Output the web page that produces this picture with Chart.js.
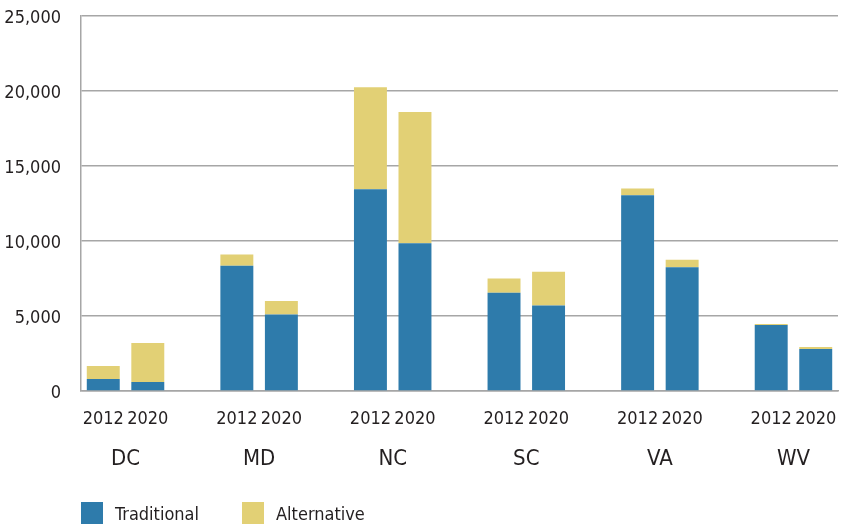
<!DOCTYPE html>
<html>
<head>
<meta charset="utf-8">
<script src="https://cdn.jsdelivr.net/npm/chart.js@4.4.1/dist/chart.umd.min.js"></script>
<style>
  html, body { margin: 0; padding: 0; background: #fff; }
  #wrap { position: relative; width: 843px; height: 525px; }
  #legend {
    position: absolute; left: 81px; top: 502px;
    display: flex; align-items: center;
    font-family: 'Liberation Sans Narrow', 'DejaVu Sans Condensed', sans-serif;
    font-size: 18px; color: #231f20;
  }
  .item { display: flex; align-items: center; width: 161px; }
  .box { width: 22px; height: 22px; margin-right: 12px; }
</style>
</head>
<body>
<div id="wrap">
  <canvas id="chart" width="843" height="525"></canvas>
  <div id="legend"></div>
</div>
<script>
// Traditional vs alternative, by state and year

const states = ['DC', 'MD', 'NC', 'SC', 'VA', 'WV'];
const years = ['2012', '2020'];
const traditional2012 = [800, 8350, 13450, 6550, 13050, 4400];
const traditional2020 = [600, 5100, 9850, 5700, 8250, 2800];
const alternative2012 = [870, 750, 6800, 950, 450, 70];
const alternative2020 = [2600, 900, 8750, 2250, 500, 130];
const yTicks = [0, 5000, 10000, 15000, 20000, 25000];

const FONT = "'Liberation Sans Narrow', 'DejaVu Sans Condensed', sans-serif";
const TEXT = '#231f20';
const GRID = '#a6a6a6';

// one slot per bar, an empty slot between states
function slots(a2012, a2020) {
  const out = [];
  states.forEach((s, i) => {
    out.push(a2012[i], a2020[i]);
    if (i < states.length - 1) out.push(null);
  });
  return out;
}

const labels = [];
states.forEach((s, i) => {
  labels.push(years[0], years[1]);
  if (i < states.length - 1) labels.push('');
});

const series = [
  { label: 'Traditional', color: '#2e7bab', data: slots(traditional2012, traditional2020) },
  { label: 'Alternative', color: '#e2d075', data: slots(alternative2012, alternative2020) },
];

function noSidePadding(scale) {
  scale.paddingLeft = 0;
  scale.paddingRight = 0;
}

function createChart() {
  const ctx = document.getElementById('chart').getContext('2d');

  new Chart(ctx, {
    type: 'bar',
    data: {
      labels,
      datasets: series.map((s) => ({
        label: s.label,
        data: s.data,
        backgroundColor: s.color,
        borderWidth: 0,
        categoryPercentage: 1,
        barPercentage: 0.74,
      })),
    },
    options: {
      responsive: false,
      animation: false,
      layout: { padding: { top: 0, right: 5, bottom: 46, left: 0 } },
      plugins: {
        legend: { display: false },
        tooltip: { enabled: false },
      },
      scales: {
        x: {
          stacked: true,
          grid: { display: false, drawTicks: false },
          border: { display: true, color: GRID, width: 1.5 },
          ticks: {
            color: TEXT,
            font: { family: FONT, size: 18 },
            padding: 18,
            maxRotation: 0,
            autoSkip: false,
          },
          afterFit: (scale) => {
            scale.height = 48;
            noSidePadding(scale);
          },
        },
        xState: {
          type: 'linear',
          position: 'bottom',
          offset: false,
          min: -0.5,
          max: labels.length - 0.5,
          grid: { display: false, drawTicks: false },
          border: { display: false },
          afterBuildTicks: (scale) => {
            scale.ticks = states.map((s, i) => ({ value: i * 3 + 0.5 }));
          },
          ticks: {
            color: TEXT,
            font: { family: FONT, size: 22 },
            padding: 7,
            maxRotation: 0,
            autoSkip: false,
            callback: (v) => states[Math.round((v - 0.5) / 3)],
          },
          afterFit: (scale) => {
            scale.height = 40;
            noSidePadding(scale);
          },
        },
        y: {
          stacked: true,
          min: 0,
          max: 25000,
          afterBuildTicks: (scale) => {
            scale.ticks = yTicks.map((v) => ({ value: v }));
          },
          grid: { color: GRID, lineWidth: 1.5, drawTicks: false },
          border: { display: true, color: GRID, width: 1.5 },
          ticks: {
            color: TEXT,
            font: { family: FONT, size: 18 },
            padding: 20,
            labelOffset: 2,
            callback: (v) => v.toLocaleString('en-US'),
          },
          afterFit: (scale) => {
            scale.width = 81;
            scale.paddingTop = 16;
            scale.paddingBottom = 0;
          },
        },
      },
    },
  });

  const legend = document.getElementById('legend');
  series.forEach((s) => {
    const item = document.createElement('div');
    item.className = 'item';
    item.innerHTML = `<span class="box" style="background:${s.color}"></span><span>${s.label}</span>`;
    legend.appendChild(item);
  });
}

document.addEventListener('DOMContentLoaded', createChart);
</script>
</body>
</html>
